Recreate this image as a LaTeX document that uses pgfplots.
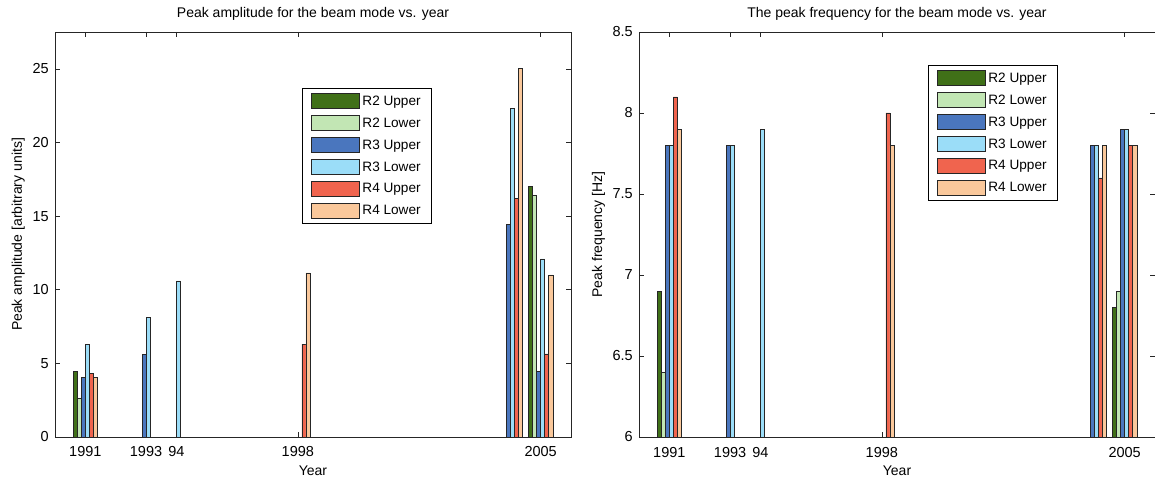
\documentclass[border=0pt]{standalone}
\usepackage{fontspec}
\setmainfont{Liberation Sans}
\usepackage{pgfplots}
\pgfplotsset{compat=1.18}

\definecolor{rtwoU}{RGB}{64,112,24}
\definecolor{rtwoL}{RGB}{194,230,180}
\definecolor{rthreeU}{RGB}{74,118,190}
\definecolor{rthreeL}{RGB}{155,221,248}
\definecolor{rfourU}{RGB}{240,100,78}
\definecolor{rfourL}{RGB}{250,200,155}

\pgfplotsset{
  barleg/.style={legend image code/.code={\draw[##1] (0pt,-7.5pt) rectangle (48pt,7.5pt);}},
  myaxis/.style={
    scale only axis, width=516pt, height=405pt,
    xmin=1990, xmax=2007,
    xtick={1991,1993,1994,1998,2006},
    xticklabels={1991,1993,94,1998,2005},
    ybar, bar width=0.1333,
    tick align=inside, major tick length=5pt,
    axis line style={black!85, line width=0.8pt},
    every tick/.style={black!85, line width=0.6pt},
    tick label style={font=\fontsize{14.5}{16}\selectfont},
    /pgf/number format/assume math mode=true,
    xticklabel style={anchor=base, inner sep=0pt, yshift=-20pt},
    yticklabel style={anchor=east, inner sep=0pt, xshift=-6pt},
    title style={at={(axis description cs:0.5,1.022)}, anchor=base, inner sep=0pt, font=\fontsize{14}{16}\selectfont},
    xlabel style={at={(axis description cs:0.5,-0.094)}, anchor=base, inner sep=0pt, font=\fontsize{14}{16}\selectfont},
    ylabel style={rotate=0, anchor=base, inner sep=0pt, font=\fontsize{14}{16}\selectfont},
    legend style={draw=black, line width=0.8pt, fill=white, font=\fontsize{13.6}{15}\selectfont,
      anchor=north west, row sep=6.4pt, inner xsep=9pt, inner ysep=5pt,
      nodes={inner sep=1.5pt}, column sep=1pt},
    legend cell align=left,
    every axis plot/.append style={draw=black!85, line width=0.55pt},
  }
}

\begin{document}
\begin{tikzpicture}
\begin{axis}[myaxis, at={(55pt,44pt)}, anchor=south west,
  ymin=0, ymax=27.5, ytick={0,5,10,15,20,25},
  title={Peak amplitude for the beam mode vs. year},
  xlabel={Year},
  ylabel={Peak amplitude [arbitrary units]},
  ylabel style={at={(axis description cs:-0.064,0.5)}},
  legend style={at={(axis description cs:0.4787,0.8617)}},
]
\addplot[fill=rtwoU, bar shift=-0.3333, barleg] coordinates {(1991,4.45) (2006,17.0)};
\addplot[fill=rtwoL, bar shift=-0.2, barleg] coordinates {(1991,2.6) (2006,16.4)};
\addplot[fill=rthreeU, bar shift=-0.0667, barleg] coordinates {(1991,4.05) (1993,5.6) (2005,14.45) (2006,4.45)};
\addplot[fill=rthreeL, bar shift=0.0667, barleg] coordinates {(1991,6.3) (1993,8.1) (1994,10.6) (2005,22.3) (2006,12.1)};
\addplot[fill=rfourU, bar shift=0.2, barleg] coordinates {(1991,4.3) (1998,6.3) (2005,16.2) (2006,5.65)};
\addplot[fill=rfourL, bar shift=0.3333, barleg] coordinates {(1991,4.05) (1998,11.15) (2005,25.05) (2006,11.0)};
\legend{R2 Upper,R2 Lower,R3 Upper,R3 Lower,R4 Upper,R4 Lower}
\end{axis}

\begin{axis}[myaxis, at={(639pt,44pt)}, anchor=south west,
  ymin=6, ymax=8.5, ytick={6,6.5,7,7.5,8,8.5},
  title={The peak frequency for the beam mode vs. year},
  xlabel={Year},
  ylabel={Peak frequency [Hz]},
  ylabel style={at={(axis description cs:-0.0717,0.5)}},
  legend style={at={(axis description cs:0.560,0.9185)}},
]
\addplot[fill=rtwoU, bar shift=-0.3333, barleg] coordinates {(1991,6.9) (2006,6.8)};
\addplot[fill=rtwoL, bar shift=-0.2, barleg] coordinates {(1991,6.4) (2006,6.9)};
\addplot[fill=rthreeU, bar shift=-0.0667, barleg] coordinates {(1991,7.8) (1993,7.8) (2005,7.8) (2006,7.9)};
\addplot[fill=rthreeL, bar shift=0.0667, barleg] coordinates {(1991,7.8) (1993,7.8) (1994,7.9) (2005,7.8) (2006,7.9)};
\addplot[fill=rfourU, bar shift=0.2, barleg] coordinates {(1991,8.1) (1998,8.0) (2005,7.6) (2006,7.8)};
\addplot[fill=rfourL, bar shift=0.3333, barleg] coordinates {(1991,7.9) (1998,7.8) (2005,7.8) (2006,7.8)};
\legend{R2 Upper,R2 Lower,R3 Upper,R3 Lower,R4 Upper,R4 Lower}
\end{axis}
\pgfresetboundingbox
\path (0pt,0pt) rectangle (1155pt,481pt);
\end{tikzpicture}
\end{document}
